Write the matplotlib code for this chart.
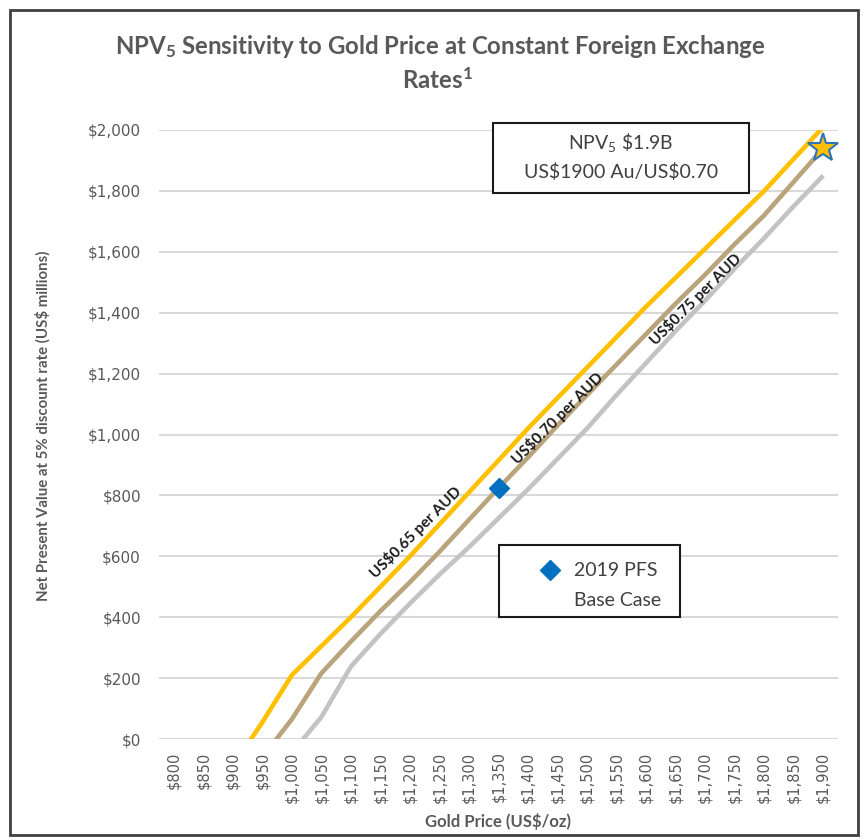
import matplotlib
matplotlib.use("Agg")
import matplotlib.pyplot as plt
import numpy as np
from matplotlib.patches import Rectangle

# ---------------- data ----------------
gold_prices = [800, 850, 900, 950, 1000, 1050, 1100, 1150, 1200, 1250, 1300, 1350,
               1400, 1450, 1500, 1550, 1600, 1650, 1700, 1750, 1800, 1850, 1900]
tick_labels = ["$" + format(p, ",") for p in gold_prices]

npv_065 = [np.nan, np.nan, -90, 55, 210, 305, 400, 500, 600, 705, 810, 915,
           1020, 1120, 1220, 1320, 1420, 1515, 1610, 1705, 1800, 1905, 2010]
npv_070 = [np.nan, np.nan, np.nan, -60, 65, 216, 320, 420, 515, 615, 720, 824,
           925, 1030, 1130, 1230, 1330, 1430, 1525, 1625, 1720, 1830, 1940]
npv_075 = [np.nan, np.nan, np.nan, np.nan, -45, 72, 238, 345, 445, 540, 630, 725,
           820, 920, 1020, 1130, 1235, 1340, 1440, 1545, 1645, 1750, 1850]

base_case_price = 1350
base_case_npv = 824
star_price = 1900
star_npv = 1940

series_labels = ["US$0.65 per AUD", "US$0.70 per AUD", "US$0.75 per AUD"]
series_colors = ["#FFC000", "#B9A47C", "#C3C3C3"]

# ---------------- figure ----------------
plt.rcParams['mathtext.fontset'] = 'custom'
plt.rcParams['mathtext.rm'] = 'Lato'
plt.rcParams['mathtext.it'] = 'Lato:italic'
plt.rcParams['mathtext.bf'] = 'Lato:bold'

W, H = 865, 840
fig = plt.figure(figsize=(W / 100, H / 100), dpi=100)
fig.patch.set_facecolor("white")

def fx(px):
    return px / W

def fy(py):
    return 1 - py / H

ax = fig.add_axes([fx(159), fy(739), fx(838) - fx(159), fy(130) - fy(739)])
x = np.arange(len(gold_prices))

ax.set_ylim(0, 2000)
ax.set_xlim(-0.5, len(gold_prices) - 0.5)
ax.set_yticks(np.arange(0, 2001, 200))
ax.set_yticklabels(["$" + format(v, ",") for v in range(0, 2001, 200)],
                   fontsize=11, color="#595959", family="DejaVu Sans")
ax.set_xticks(x)
ax.set_xticklabels(tick_labels, rotation=90, fontsize=10.5, color="#595959",
                   family="DejaVu Sans")
ax.tick_params(length=0)
ax.tick_params(axis='x', pad=9)
ax.tick_params(axis='y', pad=13)
for s in ax.spines.values():
    s.set_visible(False)
ax.grid(axis='y', color="#D9D9D9", linewidth=1.5)
ax.set_axisbelow(True)

for vals, col in zip([npv_075, npv_070, npv_065], [series_colors[2], series_colors[1], series_colors[0]]):
    ax.plot(x, vals, color=col, linewidth=3.3, solid_capstyle='butt', zorder=3)

bi = gold_prices.index(base_case_price)
ax.plot([bi], [base_case_npv], marker='D', color="#0070C0", markersize=10,
        linestyle='none', zorder=5)
si = gold_prices.index(star_price)
ax.plot([si], [star_npv], marker='*', markerfacecolor="#FFC000",
        markeredgecolor="#2E75B6", markeredgewidth=1.5, markersize=22,
        linestyle='none', zorder=6, clip_on=False)

# diagonal series labels
label_pos = [(8.2, 680), (13.0, 1055), (17.66, 1446)]
for (cx, cy), lab in zip(label_pos, series_labels):
    ax.text(cx, cy, lab, rotation=45, ha='center', va='center', fontsize=11,
            fontweight='bold', family="Lato", color="#1a1a1a", zorder=7,
            rotation_mode='anchor')

# axis titles
fig.text(fx(43), fy(426), "Net Present Value at 5% discount rate (US$ millions)",
         rotation=90, ha='center', va='center', fontsize=10.8, fontweight='bold',
         family="Lato", color="#595959")
fig.text(fx(498), fy(822), "Gold Price (US$/oz)", ha='center', va='center',
         fontsize=12, fontweight='bold', family="Lato", color="#595959")

# title
fig.text(fx(440), fy(47), r"NPV$_\mathbf{5}$ Sensitivity to Gold Price at Constant Foreign Exchange",
         ha='center', va='center', fontsize=17.3, fontweight='bold', family="Lato",
         color="#595959")
fig.text(fx(437), fy(80), r"Rates$^\mathbf{1}$", ha='center', va='center', fontsize=17.3,
         fontweight='bold', family="Lato", color="#595959")

# annotation boxes
fig.add_artist(Rectangle((fx(493), fy(193)), fx(749) - fx(493), fy(123) - fy(193),
                         transform=fig.transFigure, facecolor='white',
                         edgecolor='#1a1a1a', linewidth=1.5, zorder=8))
fig.text(fx(621), fy(143), r"NPV$_\mathrm{5}$ \$1.9B", ha='center', va='center',
         fontsize=14, family="Lato", color="#404040", zorder=9)
fig.text(fx(621), fy(172), r"US\$1900 Au/US\$0.70", ha='center', va='center',
         fontsize=14, family="Lato", color="#404040", zorder=9)

fig.add_artist(Rectangle((fx(499), fy(617)), fx(680) - fx(499), fy(545) - fy(617),
                         transform=fig.transFigure, facecolor='white',
                         edgecolor='#1a1a1a', linewidth=1.5, zorder=8))
fig.add_artist(plt.Line2D([fx(550)], [fy(570)], marker='D', color="#0070C0",
                          markersize=10, transform=fig.transFigure, zorder=9))
fig.text(fx(574), fy(571), "2019 PFS", ha='left', va='center', fontsize=14,
         family="Lato", color="#404040", zorder=9)
fig.text(fx(574), fy(600), "Base Case", ha='left', va='center', fontsize=14,
         family="Lato", color="#404040", zorder=9)

# outer frame
fig.add_artist(Rectangle((fx(10), fy(835)), fx(858) - fx(10), fy(10) - fy(835),
                         transform=fig.transFigure, facecolor='none',
                         edgecolor='#404040', linewidth=2, zorder=10))

fig.savefig("out.png", dpi=100)
